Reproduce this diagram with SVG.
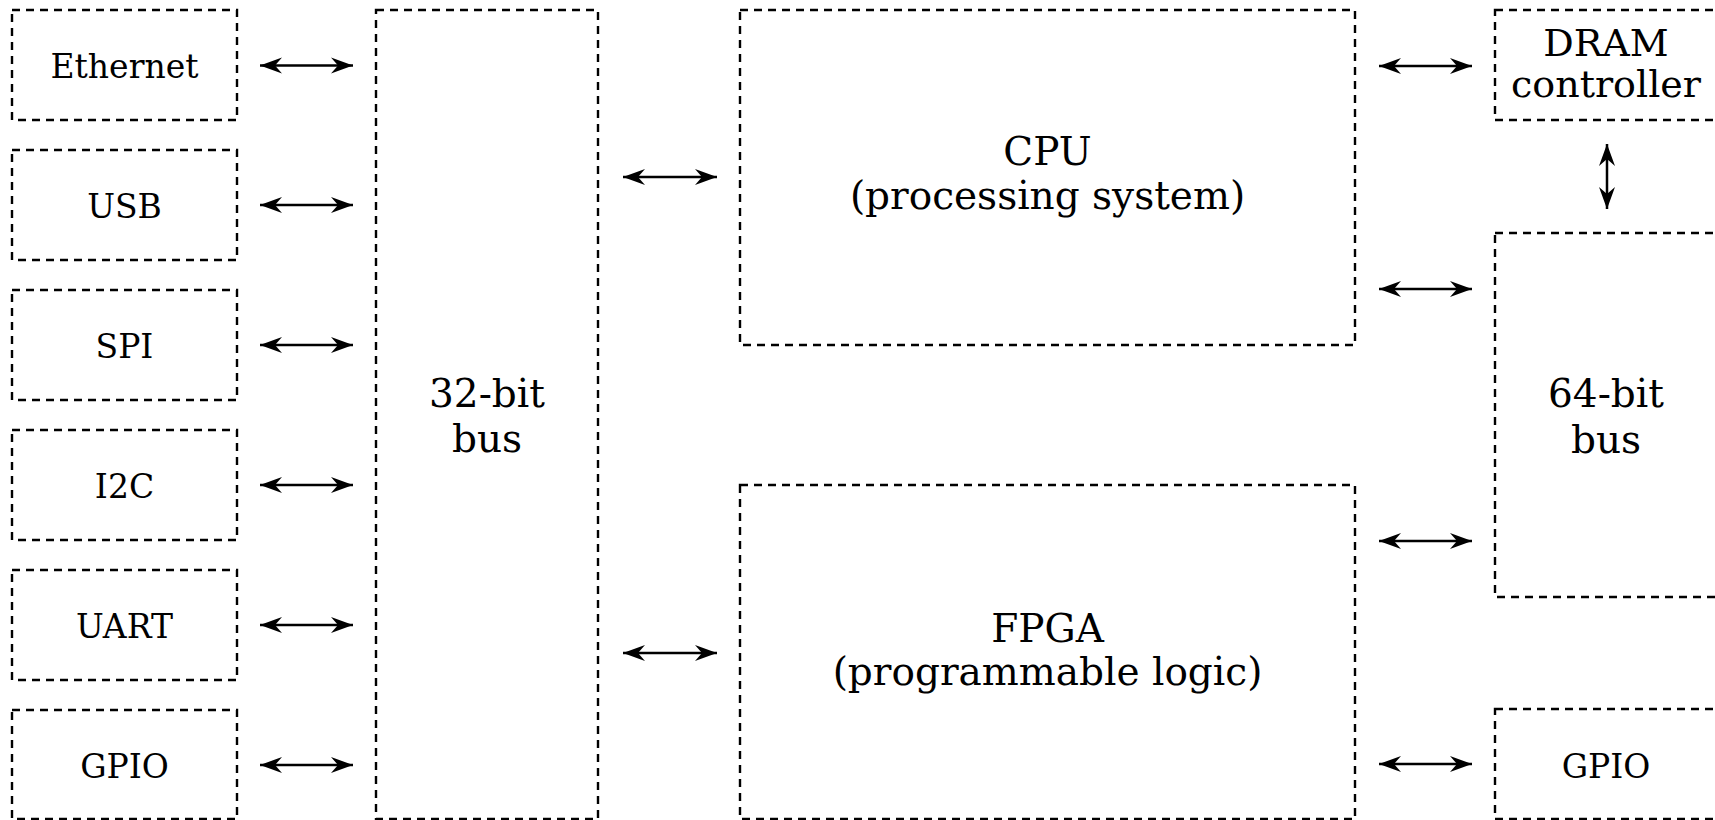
<svg xmlns="http://www.w3.org/2000/svg" width="1715" height="820" viewBox="0 0 1715 820">
<style>
.box{fill:none;stroke:#000;stroke-width:2.4;stroke-dasharray:8 6}
.lbl{font-family:"DejaVu Serif","Liberation Serif",serif;fill:#000;text-anchor:middle}
.s{font-size:33px}
.m{font-size:38px}
.l{font-size:39px}
.con line{stroke:#000;stroke-width:2.5;marker-start:url(#ah);marker-end:url(#ah)}
</style>
<defs>
<marker id="ah" viewBox="-24 -9 26 18" refX="0" refY="0" markerWidth="26" markerHeight="18" markerUnits="userSpaceOnUse" orient="auto-start-reverse">
<path d="M0,0 L-22,-8 L-15,0 L-22,8 Z" fill="#000"/>
</marker>
</defs>
<rect width="1715" height="820" fill="#fff"/>
<g id="ethernet"><rect class="box" x="12" y="10" width="225" height="110"/><text class="lbl s" x="124.5" y="78">Ethernet</text></g>
<g id="usb"><rect class="box" x="12" y="150" width="225" height="110"/><text class="lbl s" x="124.5" y="218">USB</text></g>
<g id="spi"><rect class="box" x="12" y="290" width="225" height="110"/><text class="lbl s" x="124.5" y="358">SPI</text></g>
<g id="i2c"><rect class="box" x="12" y="430" width="225" height="110"/><text class="lbl s" x="124.5" y="498">I2C</text></g>
<g id="uart"><rect class="box" x="12" y="570" width="225" height="110"/><text class="lbl s" x="124.5" y="638">UART</text></g>
<g id="gpio-left"><rect class="box" x="12" y="710" width="225" height="109"/><text class="lbl s" x="124.5" y="778">GPIO</text></g>
<g id="bus32"><rect class="box" x="376" y="10" width="222" height="809"/><text class="lbl l" x="487" y="407">32-bit</text><text class="lbl l" x="487" y="452">bus</text></g>
<g id="cpu"><rect class="box" x="740" y="10" width="615" height="335"/><text class="lbl l" x="1047.5" y="165">CPU</text><text class="lbl l" x="1047.5" y="209">(processing system)</text></g>
<g id="fpga"><rect class="box" x="740" y="485" width="615" height="334"/><text class="lbl l" x="1047.5" y="642">FPGA</text><text class="lbl l" x="1047.5" y="685">(programmable logic)</text></g>
<g id="dram"><rect class="box" x="1495" y="10" width="222" height="110"/><text class="lbl m" x="1606" y="56">DRAM</text><text class="lbl m" x="1606" y="97">controller</text></g>
<g id="bus64"><rect class="box" x="1495" y="233" width="222" height="364"/><text class="lbl l" x="1606" y="407">64-bit</text><text class="lbl l" x="1606" y="453">bus</text></g>
<g id="gpio-right"><rect class="box" x="1495" y="709" width="222" height="110"/><text class="lbl s" x="1606" y="778">GPIO</text></g>
<g id="connectors" class="con">
<line x1="260" y1="65.5" x2="353" y2="65.5"/>
<line x1="260" y1="205" x2="353" y2="205"/>
<line x1="260" y1="345" x2="353" y2="345"/>
<line x1="260" y1="485" x2="353" y2="485"/>
<line x1="260" y1="625" x2="353" y2="625"/>
<line x1="260" y1="765" x2="353" y2="765"/>
<line x1="623" y1="177" x2="717" y2="177"/>
<line x1="623" y1="653" x2="717" y2="653"/>
<line x1="1379" y1="66" x2="1472" y2="66"/>
<line x1="1379" y1="289" x2="1472" y2="289"/>
<line x1="1379" y1="541" x2="1472" y2="541"/>
<line x1="1379" y1="764" x2="1472" y2="764"/>
<line x1="1607" y1="144" x2="1607" y2="209"/>
</g>
</svg>
